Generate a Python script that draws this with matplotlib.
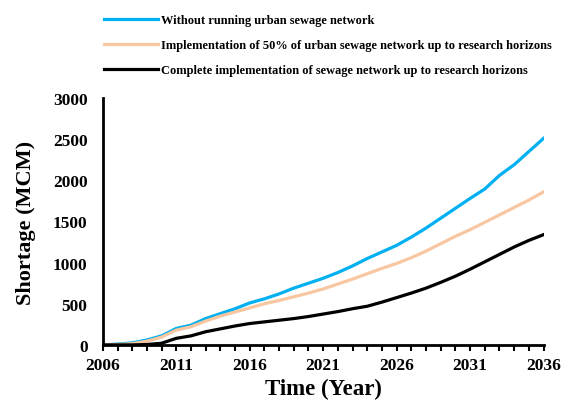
import matplotlib
matplotlib.use('Agg')
import matplotlib.pyplot as plt
from matplotlib.ticker import MultipleLocator

plt.rcParams['font.family'] = ['Liberation Serif', 'DejaVu Serif']
plt.rcParams['font.weight'] = 'bold'

# 数据
years = list(range(2006, 2037))
no_network = [0, 10, 25, 60, 110, 200, 240, 320, 380, 440, 510, 560, 620, 690, 750, 810,
              880, 960, 1050, 1130, 1210, 1310, 1420, 1540, 1660, 1780, 1895, 2060, 2190, 2350, 2510]
half_network = [0, 5, 15, 45, 95, 180, 220, 290, 350, 400, 450, 500, 540, 585, 630, 680,
                740, 800, 865, 930, 990, 1060, 1140, 1230, 1320, 1400, 1490, 1580, 1670, 1760, 1860]
full_network = [0, 0, 0, 5, 20, 80, 110, 160, 195, 230, 260, 280, 300, 320, 345, 375,
                405, 440, 470, 520, 575, 630, 690, 760, 835, 920, 1010, 1100, 1190, 1270, 1340]
labels = ['Without running urban sewage network',
          'Implementation of 50% of urban sewage network up to research horizons',
          'Complete implementation of sewage network up to research horizons']

fig = plt.figure(figsize=(5.65, 4.06), dpi=100)
ax = fig.add_axes([0.182, 0.148, 0.78, 0.608])

l1, = ax.plot(years, no_network, color='#00B0F0', lw=2.3)
l2, = ax.plot(years, half_network, color='#F8C6A0', lw=2.3)
l3, = ax.plot(years, full_network, color='black', lw=2.3)

ax.set_xlim(2006, 2036)
ax.set_ylim(0, 3000)
ax.set_xticks(range(2006, 2037, 5))
ax.xaxis.set_minor_locator(MultipleLocator(1))
ax.set_yticks(range(0, 3001, 500))
ax.tick_params(axis='x', which='both', direction='out', length=4, width=1.5, labelsize=12.5, pad=5)
ax.tick_params(axis='y', length=0, labelsize=12.5, pad=11)
for s in ['top', 'right']:
    ax.spines[s].set_visible(False)
for s in ['left', 'bottom']:
    ax.spines[s].set_linewidth(2)

ax.set_xlabel('Time (Year)', fontsize=16.5, fontweight='bold', labelpad=3)
ax.set_ylabel('Shortage (MCM)', fontsize=16, fontweight='bold', labelpad=12)

fig.legend([l1, l2, l3], labels, loc='upper left', bbox_to_anchor=(0.165, 0.99),
           frameon=False, handlelength=4.3, handletextpad=0.25,
           labelspacing=1.05, prop={'weight': 'bold', 'size': 8.9})

fig.savefig('out.png', dpi=100)
